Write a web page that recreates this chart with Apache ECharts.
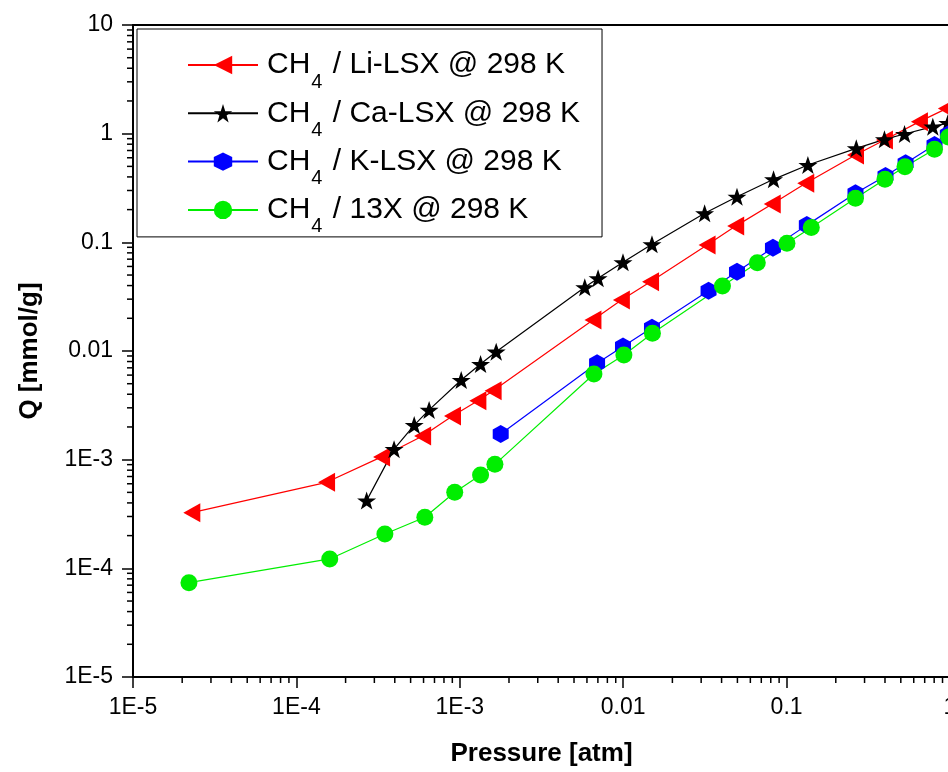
<!DOCTYPE html>
<html><head><meta charset="utf-8">
<script src="https://cdn.jsdelivr.net/npm/echarts@6/dist/echarts.min.js"></script>
<style>html,body{margin:0;padding:0;background:#fff}#c{width:948px;height:772px}</style>
</head><body><div id="c"></div>
<script>
const xTickLabels = ['1E-5','1E-4','1E-3','0.01','0.1','1'];
const yTickLabels = ['1E-5','1E-4','1E-3','0.01','0.1','1','10'];
const seriesNames = ['Li-LSX','Ca-LSX','K-LSX','13X'];

const liP = [2.29e-5,1.53e-4,3.32e-4,5.92e-4,9.02e-4,1.29e-3,1.6e-3,6.53e-3,9.75e-3,0.0147,0.0326,0.0488,0.0817,0.131,0.264,0.397,0.65,0.95];
const liQ = [3.25e-4,6.19e-4,1.06e-3,1.65e-3,2.52e-3,3.49e-3,4.31e-3,0.0193,0.0294,0.0434,0.0946,0.141,0.225,0.349,0.637,0.875,1.29,1.7];

const caP = [2.69e-4,3.96e-4,5.26e-4,6.49e-4,1.02e-3,1.34e-3,1.67e-3,5.82e-3,7.02e-3,9.97e-3,0.015,0.0315,0.0497,0.0832,0.135,0.267,0.397,0.527,0.785,0.97];
const caQ = [4.2e-4,1.25e-3,2.08e-3,2.87e-3,5.41e-3,7.59e-3,9.86e-3,0.0386,0.0467,0.0655,0.0959,0.185,0.263,0.38,0.515,0.733,0.887,0.993,1.16,1.25];

const kP = [1.78e-3,6.92e-3,9.97e-3,0.015,0.0333,0.0497,0.0825,0.133,0.264,0.403,0.535,0.804,0.97];
const kQ = [1.72e-3,7.71e-3,0.011,0.0164,0.0359,0.0537,0.0893,0.144,0.283,0.408,0.533,0.787,0.98];

const xP = [2.2e-5,1.6e-4,3.48e-4,6.11e-4,9.31e-4,1.34e-3,1.64e-3,6.62e-3,0.0101,0.0151,0.0405,0.0662,0.1005,0.1416,0.264,0.4,0.53,0.804,0.98];
const xQ = [7.38e-5,1.22e-4,2.07e-4,2.95e-4,5.01e-4,7.23e-4,9.06e-4,6.14e-3,9.19e-3,0.01455,0.0396,0.065,0.098,0.137,0.254,0.38,0.497,0.718,0.93];

const X_MIN = 1e-5, X_MAX = 1, Y_MIN = 1e-5, Y_MAX = 10;
const FONT = 'Arial, "Liberation Sans", sans-serif';

function pairs(a, b) { return a.map((v, i) => [v, b[i]]); }
function minorTicks(minExp, maxExp) {
  const out = [];
  for (let e = minExp; e < maxExp; e++) for (let m = 2; m <= 9; m++) out.push(m * Math.pow(10, e));
  return out;
}
const minorX = minorTicks(-5, 0);
const minorY = minorTicks(-5, 1);

function fmt(labels, minExp) {
  return v => { const i = Math.round(Math.log10(v)) - minExp; return labels[i] !== undefined ? labels[i] : ''; };
}

const STAR = 'path://M50,0 L61.8,35.3 L98.1,35.3 L68.8,57.1 L79.4,91.5 L50,70.6 L20.6,91.5 L31.2,57.1 L1.9,35.3 L38.2,35.3 Z';
const HEX = 'path://M50,0 L93.3,25 L93.3,75 L50,100 L6.7,75 L6.7,25 Z';

const chart = echarts.init(document.getElementById('c'), null, {renderer: 'canvas'});

function lineSeries(name, data, color, symbol, size, rotate) {
  return {
    name, type: 'line', data, symbol, symbolSize: size, symbolRotate: rotate || 0,
    showAllSymbol: true, clip: false,
    lineStyle: {color, width: 1.2}, itemStyle: {color, borderWidth: 0},
    emphasis: {disabled: true}, animation: false, z: 3
  };
}

chart.setOption({
  animation: false,
  textStyle: {fontFamily: FONT},
  grid: {left: 133, top: 25, width: 817, height: 652, outerBoundsMode: 'none', containLabel: false},
  legend: {
    data: seriesNames, orient: 'vertical', left: 137, top: 29,
    padding: [9, 22, 0, 50], itemGap: -5.7, itemWidth: 70, itemHeight: 23,
    borderColor: '#000', borderWidth: 1, backgroundColor: '#fff',
    formatter: n => '{c|CH}{s|4}{a| / ' + n + ' @ 298 K}',
    textStyle: {
      color: '#000', fontFamily: FONT,
      rich: {
        c: {fontSize: 30, lineHeight: 34, padding: [10, 0, 10, 4], fontFamily: FONT, color: '#000'},
        a: {fontSize: 30, lineHeight: 34, padding: [10, 0, 10, 0], fontFamily: FONT, color: '#000'},
        s: {fontSize: 20, lineHeight: 20, padding: [34, 2, 0, 1], fontFamily: FONT, color: '#000'}
      }
    },
    selectedMode: false
  },
  xAxis: [{
    type: 'log', logBase: 10, min: X_MIN, max: X_MAX, interval: 1,
    name: 'Pressure [atm]', nameLocation: 'middle', nameGap: 64,
    nameTextStyle: {fontSize: 26, fontWeight: 'bold', color: '#000', fontFamily: FONT},
    axisLine: {lineStyle: {color: '#000', width: 2}},
    axisTick: {length: 11, lineStyle: {color: '#000', width: 1.5}},
    axisLabel: {formatter: fmt(xTickLabels, -5), fontSize: 23, color: '#000', margin: 19, fontFamily: FONT, showMaxLabel: true, showMinLabel: true, hideOverlap: false},
    splitLine: {show: false}
  }, {
    type: 'log', logBase: 10, min: X_MIN, max: X_MAX, position: 'top',
    axisLine: {lineStyle: {color: '#000', width: 2}}, axisTick: {show: false}, axisLabel: {show: false}, splitLine: {show: false}
  }],
  yAxis: [{
    type: 'log', logBase: 10, min: Y_MIN, max: Y_MAX, interval: 1,
    name: 'Q [mmol/g]', nameLocation: 'middle', nameGap: 90,
    nameTextStyle: {fontSize: 26, fontWeight: 'bold', color: '#000', fontFamily: FONT},
    axisLine: {lineStyle: {color: '#000', width: 2}},
    axisTick: {length: 11, lineStyle: {color: '#000', width: 1.5}},
    axisLabel: {formatter: fmt(yTickLabels, -5), fontSize: 23, color: '#000', margin: 20, fontFamily: FONT, showMaxLabel: true, showMinLabel: true},
    splitLine: {show: false}
  }, {
    type: 'log', logBase: 10, min: Y_MIN, max: Y_MAX, position: 'right',
    axisLine: {lineStyle: {color: '#000', width: 2}}, axisTick: {show: false}, axisLabel: {show: false}, splitLine: {show: false}
  }],
  series: [
    {
      type: 'custom', silent: true, clip: false, animation: false, z: 1,
      data: minorX.map(v => [v, Y_MIN]),
      renderItem: (params, api) => {
        const p = api.coord([api.value(0), api.value(1)]);
        return {type: 'line', shape: {x1: p[0], y1: p[1], x2: p[0], y2: p[1] + 6}, style: {stroke: '#000', lineWidth: 1.5}};
      }
    },
    {
      type: 'custom', silent: true, clip: false, animation: false, z: 1,
      data: minorY.map(v => [X_MIN, v]),
      renderItem: (params, api) => {
        const p = api.coord([api.value(0), api.value(1)]);
        return {type: 'line', shape: {x1: p[0], y1: p[1], x2: p[0] - 6, y2: p[1]}, style: {stroke: '#000', lineWidth: 1.5}};
      }
    },
    lineSeries(seriesNames[0], pairs(liP, liQ), '#ff0000', 'triangle', [19, 17], 90),
    lineSeries(seriesNames[1], pairs(caP, caQ), '#000000', STAR, [19, 18], 0),
    lineSeries(seriesNames[2], pairs(kP, kQ), '#0000ff', HEX, [16, 18], 0),
    lineSeries(seriesNames[3], pairs(xP, xQ), '#00ee00', 'circle', 17, 0)
  ]
});
</script></body></html>
